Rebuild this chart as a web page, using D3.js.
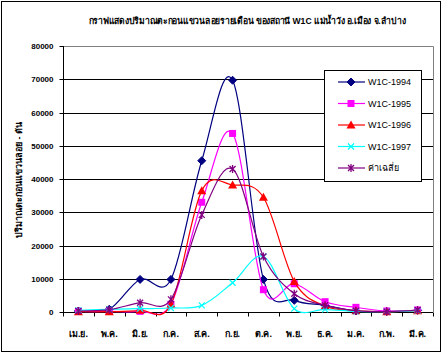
<!DOCTYPE html>
<html><head><meta charset="utf-8">
<script src="https://cdn.jsdelivr.net/npm/d3@7"></script>
<style>
body{margin:0;background:#fff;}
svg{display:block;}
text{font-family:"Liberation Sans","DejaVu Sans",sans-serif;}
</style></head>
<body>
<svg id="chart" width="443" height="354"></svg>
<script>
const months = ["เม.ย.","พ.ค.","มิ.ย.","ก.ค.","ส.ค.","ก.ย.","ต.ค.","พ.ย.","ธ.ค.","ม.ค.","ก.พ.","มี.ค."];
const seriesNames = ["W1C-1994","W1C-1995","W1C-1996","W1C-1997","ค่าเฉลี่ย"];
const s1994 = [300, 800, 9800, 9800, 45500, 69700, 9800, 3500, 2000, 300, 200, 500];
const s1995 = [200, 200, 200, 2300, 33000, 53700, 6700, 8500, 3100, 1400, 300, 600];
const s1996 = [100, 100, 500, 2300, 36500, 38200, 34500, 9200, 1800, 400, 100, 400];
const s1997 = [500, 800, 1000, 1200, 2000, 8800, 16700, 1000, 800, 200, 100, 400];
const sAvg  = [300, 700, 2800, 3800, 29200, 43000, 16700, 5500, 2000, 400, 100, 600];
const yTicks = [0,10000,20000,30000,40000,50000,60000,70000,80000];
const title = "กราฟแสดงปริมาณตะกอนแขวนลอยรายเดือน ของสถานี  W1C แม่น้ำวัง อ.เมือง จ.ลำปาง";
const yTitle = "ปริมาณตะกอนแขวนลอย - ตัน";

const colors = ["#000080","#ff00ff","#ff0000","#00ffff","#800080"];
const shapes = ["diamond","square","triangle","x","star"];
const data = [s1994,s1995,s1996,s1997,sAvg];

const svg = d3.select("#chart");
const L=63, R=433, T=46, B=312;

svg.append("rect").attr("x",1.5).attr("y",1.5).attr("width",439).attr("height",350)
  .attr("fill","none").attr("stroke","#000").attr("stroke-width",1);

const x = d3.scaleBand().domain(months).range([L,R]);
const y = d3.scaleLinear().domain([0,80000]).range([B,T]);

svg.append("g").selectAll("line").data(yTicks.filter(d=>d>0 && d<80000)).join("line")
  .attr("x1",L).attr("x2",R).attr("y1",d=>Math.round(y(d))+0.5).attr("y2",d=>Math.round(y(d))+0.5)
  .attr("stroke","#000").attr("stroke-width",1);
svg.append("path").attr("d",`M${L},${T+0.5}H${R+0.5}V${B}`).attr("fill","none").attr("stroke","#808080");

const yAxis = svg.append("g").attr("transform",`translate(${L+0.5},0)`)
  .call(d3.axisLeft(y).tickValues(yTicks).tickSize(4).tickPadding(6).tickFormat(d3.format("d")));
yAxis.selectAll("text").attr("font-size","8px").attr("font-weight","bold").attr("fill","#000").attr("dy","0.32em");
yAxis.selectAll("line,path").attr("stroke","#000");
yAxis.select(".domain").attr("d",`M0,${T}V${B}`);
yAxis.selectAll(".tick").attr("transform",d=>`translate(0,${Math.round(y(d))+0.5})`);

const xg = svg.append("g").attr("transform",`translate(0,${B+0.5})`);
xg.append("line").attr("x1",L).attr("x2",R).attr("stroke","#000");
const tickPos = d3.range(months.length+1).map(i=>L+i*x.step());
xg.selectAll("line.t").data(tickPos).join("line").attr("class","t")
  .attr("x1",d=>Math.round(d)+0.5).attr("x2",d=>Math.round(d)+0.5).attr("y1",0).attr("y2",4).attr("stroke","#000");
xg.selectAll("text").data(months).join("text")
  .attr("x",d=>x(d)+x.bandwidth()/2).attr("y",24).attr("text-anchor","middle")
  .attr("font-size","9px").attr("font-weight","bold").text(d=>d);

svg.append("text").attr("x",247).attr("y",24).attr("text-anchor","middle")
  .attr("font-size","9px").attr("font-weight","bold").attr("textLength",317).attr("lengthAdjust","spacingAndGlyphs").text(title);
svg.append("text").attr("transform","translate(22,180) rotate(-90)").attr("text-anchor","middle")
  .attr("font-size","9px").attr("font-weight","bold").text(yTitle);

function marker(g, shape, color, cx, cy){
  if(shape==="diamond"){
    g.append("path").attr("d",`M${cx},${cy-4}L${cx+4},${cy}L${cx},${cy+4}L${cx-4},${cy}Z`).attr("fill",color).attr("stroke",color);
  } else if(shape==="square"){
    g.append("rect").attr("x",cx-3.5).attr("y",cy-3.5).attr("width",7).attr("height",7).attr("fill",color);
  } else if(shape==="triangle"){
    g.append("path").attr("d",`M${cx},${cy-4.5}L${cx+4.5},${cy+3.5}L${cx-4.5},${cy+3.5}Z`).attr("fill",color);
  } else if(shape==="x"){
    g.append("path").attr("d",`M${cx-3},${cy-3}L${cx+3},${cy+3}M${cx+3},${cy-3}L${cx-3},${cy+3}`).attr("stroke",color).attr("stroke-width",1.2);
  } else {
    g.append("path").attr("d",`M${cx-3},${cy-3}L${cx+3},${cy+3}M${cx+3},${cy-3}L${cx-3},${cy+3}M${cx},${cy-4}L${cx},${cy+4}`).attr("stroke",color).attr("stroke-width",1.3);
  }
}

const line = d3.line().x((d,i)=>x(months[i])+x.bandwidth()/2).y(d=>y(d)).curve(d3.curveCatmullRom.alpha(0));
data.forEach((s,k)=>{
  const g = svg.append("g");
  g.append("path").attr("d",line(s)).attr("fill","none").attr("stroke",colors[k]).attr("stroke-width",1.2);
  s.forEach((v,i)=>marker(g, shapes[k], colors[k], x(months[i])+x.bandwidth()/2, y(v)));
});

const lg = svg.append("g");
lg.append("rect").attr("x",324.5).attr("y",70.5).attr("width",97).attr("height",111).attr("fill","#fff").attr("stroke","#000");
seriesNames.forEach((n,k)=>{
  const yy = 82 + k*21.5;
  lg.append("line").attr("x1",338).attr("x2",365).attr("y1",yy).attr("y2",yy).attr("stroke",colors[k]).attr("stroke-width",1.2);
  marker(lg, shapes[k], colors[k], 351, yy);
  lg.append("text").attr("x",368).attr("y",yy).attr("dy","0.35em").attr("font-size","9px").text(n);
});
</script>
</body></html>
